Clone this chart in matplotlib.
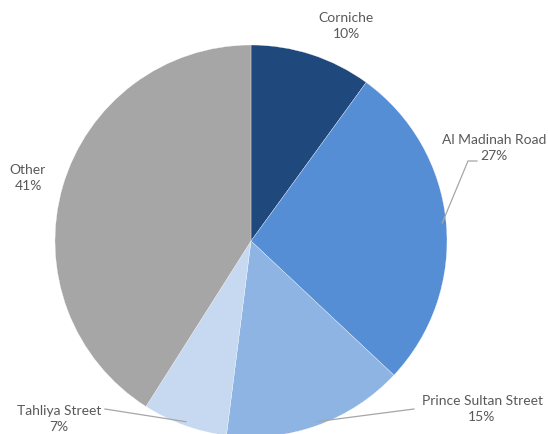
import matplotlib.pyplot as plt
import numpy as np

plt.rcParams['font.family'] = ['Lato', 'DejaVu Sans']

roads = ["Corniche", "Al Madinah Road", "Prince Sultan Street", "Tahliya Street", "Other"]
shares = [10, 27, 15, 7, 41]
colors = ["#1F497D", "#558ED5", "#8EB4E3", "#C6D9F1", "#A6A6A6"]

# label centre (x, y) in pixels from top-left, plus optional leader elbow
label_pos = [(346, 26), (494, 148), (482, 409), (59, 419), (28, 178)]
leaders = {
    1: [(468, 162), (477, 162)],
    2: [(414, 410)],
    3: [(105, 410)],
}

W, H = 548, 435
fig = plt.figure(figsize=(W / 100, H / 100), dpi=100)
ax = fig.add_axes([0, 0, 1, 1])

cx, cy, r = 251, H - 242, 196
wedges, _ = ax.pie(shares, colors=colors, startangle=90, counterclock=False,
                   center=(cx, cy), radius=r, frame=True,
                   wedgeprops=dict(linewidth=0.2, edgecolor="white"))
ax.set_xlim(0, W)
ax.set_ylim(0, H)
ax.set_aspect("equal")
ax.axis("off")

for i, (name, val) in enumerate(zip(roads, shares)):
    lx, ly = label_pos[i]
    ax.text(lx, H - ly, f"{name}\n{val}%", ha="center", va="center",
            fontsize=10, color="#595959", linespacing=1.35)
    if i in leaders:
        w = wedges[i]
        mid = np.deg2rad((w.theta1 + w.theta2) / 2)
        px = cx + r * 0.98 * np.cos(mid)
        py = cy + r * 0.98 * np.sin(mid)
        pts = [(px, py)] + [(x, H - y) for x, y in leaders[i]]
        xs, ys = zip(*pts)
        ax.plot(xs, ys, color="#A6A6A6", linewidth=0.9)

fig.savefig("out.png", dpi=100)
